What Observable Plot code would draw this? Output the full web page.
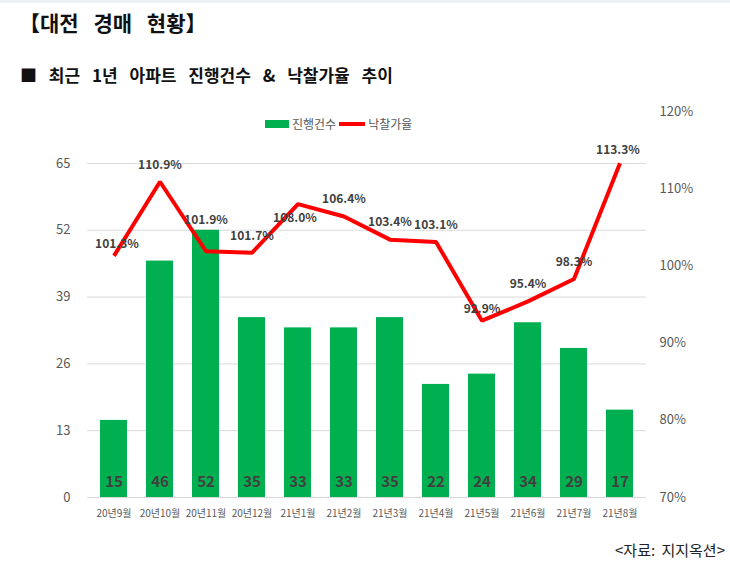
<!DOCTYPE html>
<html>
<head>
<meta charset="utf-8">
<script src="https://cdn.jsdelivr.net/npm/d3@7"></script>
<script src="https://cdn.jsdelivr.net/npm/@observablehq/plot@0.6"></script>
<style>
  html, body { margin: 0; padding: 0; background: #fff; }
  body { width: 730px; height: 563px; position: relative; overflow: hidden; font-family: "Noto Sans CJK KR", "Noto Sans", sans-serif; }
  .topline { position: absolute; left: 0; top: 0; width: 730px; height: 3px; background: #edf1f4; }
  .title { position: absolute; left: 19px; top: 7px; font-size: 21px; font-weight: 700; color: #111; line-height: 30px; word-spacing: 10px; }
  .subtitle { position: absolute; left: 20px; top: 62px; font-size: 17px; font-weight: 700; color: #111; line-height: 26px; word-spacing: 8px; }
  .legend { position: absolute; left: 265px; top: 115px; font-size: 12px; color: #595959; display: flex; align-items: center; line-height: 18px; }
  .legend .sw { display: inline-block; width: 24px; height: 8px; background: #00b050; margin-right: 3px; }
  .legend .ln { display: inline-block; width: 26px; height: 4px; background: #ff0000; margin: 0 3px 0 3px; }
  #chart { position: absolute; left: 0; top: 90px; }
  .caption { position: absolute; right: 5px; top: 539px; font-size: 15px; color: #222; line-height: 22px; word-spacing: 3px; }
</style>
</head>
<body>
<div class="topline"></div>
<div class="title">【대전 경매 현황】</div>
<div class="subtitle">■ 최근 1년 아파트 진행건수 &amp; 낙찰가율 추이</div>
<div id="chart"></div>
<div class="legend"><span class="sw"></span><span>진행건수</span><span class="ln"></span><span>낙찰가율</span></div>
<div class="caption">&lt;자료: 지지옥션&gt;</div>
<script>
const months = ["20년9월","20년10월","20년11월","20년12월","21년1월","21년2월","21년3월","21년4월","21년5월","21년6월","21년7월","21년8월"];
const counts = [15,46,52,35,33,33,35,22,24,34,29,17];
const rates = [101.3,110.9,101.9,101.7,108.0,106.4,103.4,103.1,92.9,95.4,98.3,113.3];
const leftTicks = [0,13,26,39,52,65];
const rightTicks = [70,80,90,100,110,120];

const YMAX = 75.1;
const RMIN = 70, RMAX = 120;
const toY = r => (r - RMIN) / (RMAX - RMIN) * YMAX;

// label placement tweaks (style, not data): offsets per point index
const labelDy = {0: -12, 2: -31, 4: 14, 8: -12, 11: -13};
const labelDx = {0: 3, 4: -3, 11: -2};

const data = months.map((m, i) => ({month: m, count: counts[i], rate: rates[i], i}));

const rateLabel = d => d.rate.toFixed(1) + "%";
const groups = {};
data.forEach(d => {
  const dy = labelDy[d.i] ?? -17, dx = labelDx[d.i] ?? 0;
  const k = dx + "," + dy;
  (groups[k] = groups[k] || {dx, dy, rows: []}).rows.push(d);
});
const labelMarks = Object.values(groups).map(g =>
  Plot.text(g.rows, {x: "month", y: d => toY(d.rate), text: rateLabel, dx: g.dx, dy: g.dy, fontWeight: "bold", fontSize: 12, fill: "#404040"})
);

const chart = Plot.plot({
  width: 730,
  height: 440,
  marginLeft: 87,
  marginRight: 84,
  marginTop: 21,
  marginBottom: 33,
  style: {fontFamily: '"Noto Sans CJK KR", "Noto Sans", sans-serif', background: "transparent"},
  x: {domain: months, paddingInner: 0.42, paddingOuter: 0.21, label: null},
  y: {domain: [0, YMAX], label: null},
  marks: [
    Plot.ruleY(leftTicks, {stroke: "#d9d9d9", strokeWidth: 1}),
    Plot.barY(data, {x: "month", y: "count", fill: "#00b050"}),
    Plot.text(data, {x: "month", y: 0, text: d => String(d.count), dy: -15, fontWeight: "bold", fontSize: 15, fill: "#404040"}),
    Plot.line(data, {x: "month", y: d => toY(d.rate), stroke: "#ff0000", strokeWidth: 4, strokeLinejoin: "miter", strokeLinecap: "butt"}),
    ...labelMarks,
    Plot.axisY(leftTicks, {anchor: "left", tickSize: 0, tickPadding: 17, fontSize: 13, fill: "#595959", label: null}),
    Plot.axisY(rightTicks.map(toY), {anchor: "right", tickSize: 0, tickPadding: 13, fontSize: 13, fill: "#595959", label: null,
      tickFormat: v => Math.round(v / YMAX * (RMAX - RMIN) + RMIN) + "%"}),
    Plot.axisX({tickSize: 0, tickPadding: 12, fontSize: 10, fill: "#595959", label: null})
  ]
});
document.getElementById("chart").appendChild(chart);
</script>
</body>
</html>
